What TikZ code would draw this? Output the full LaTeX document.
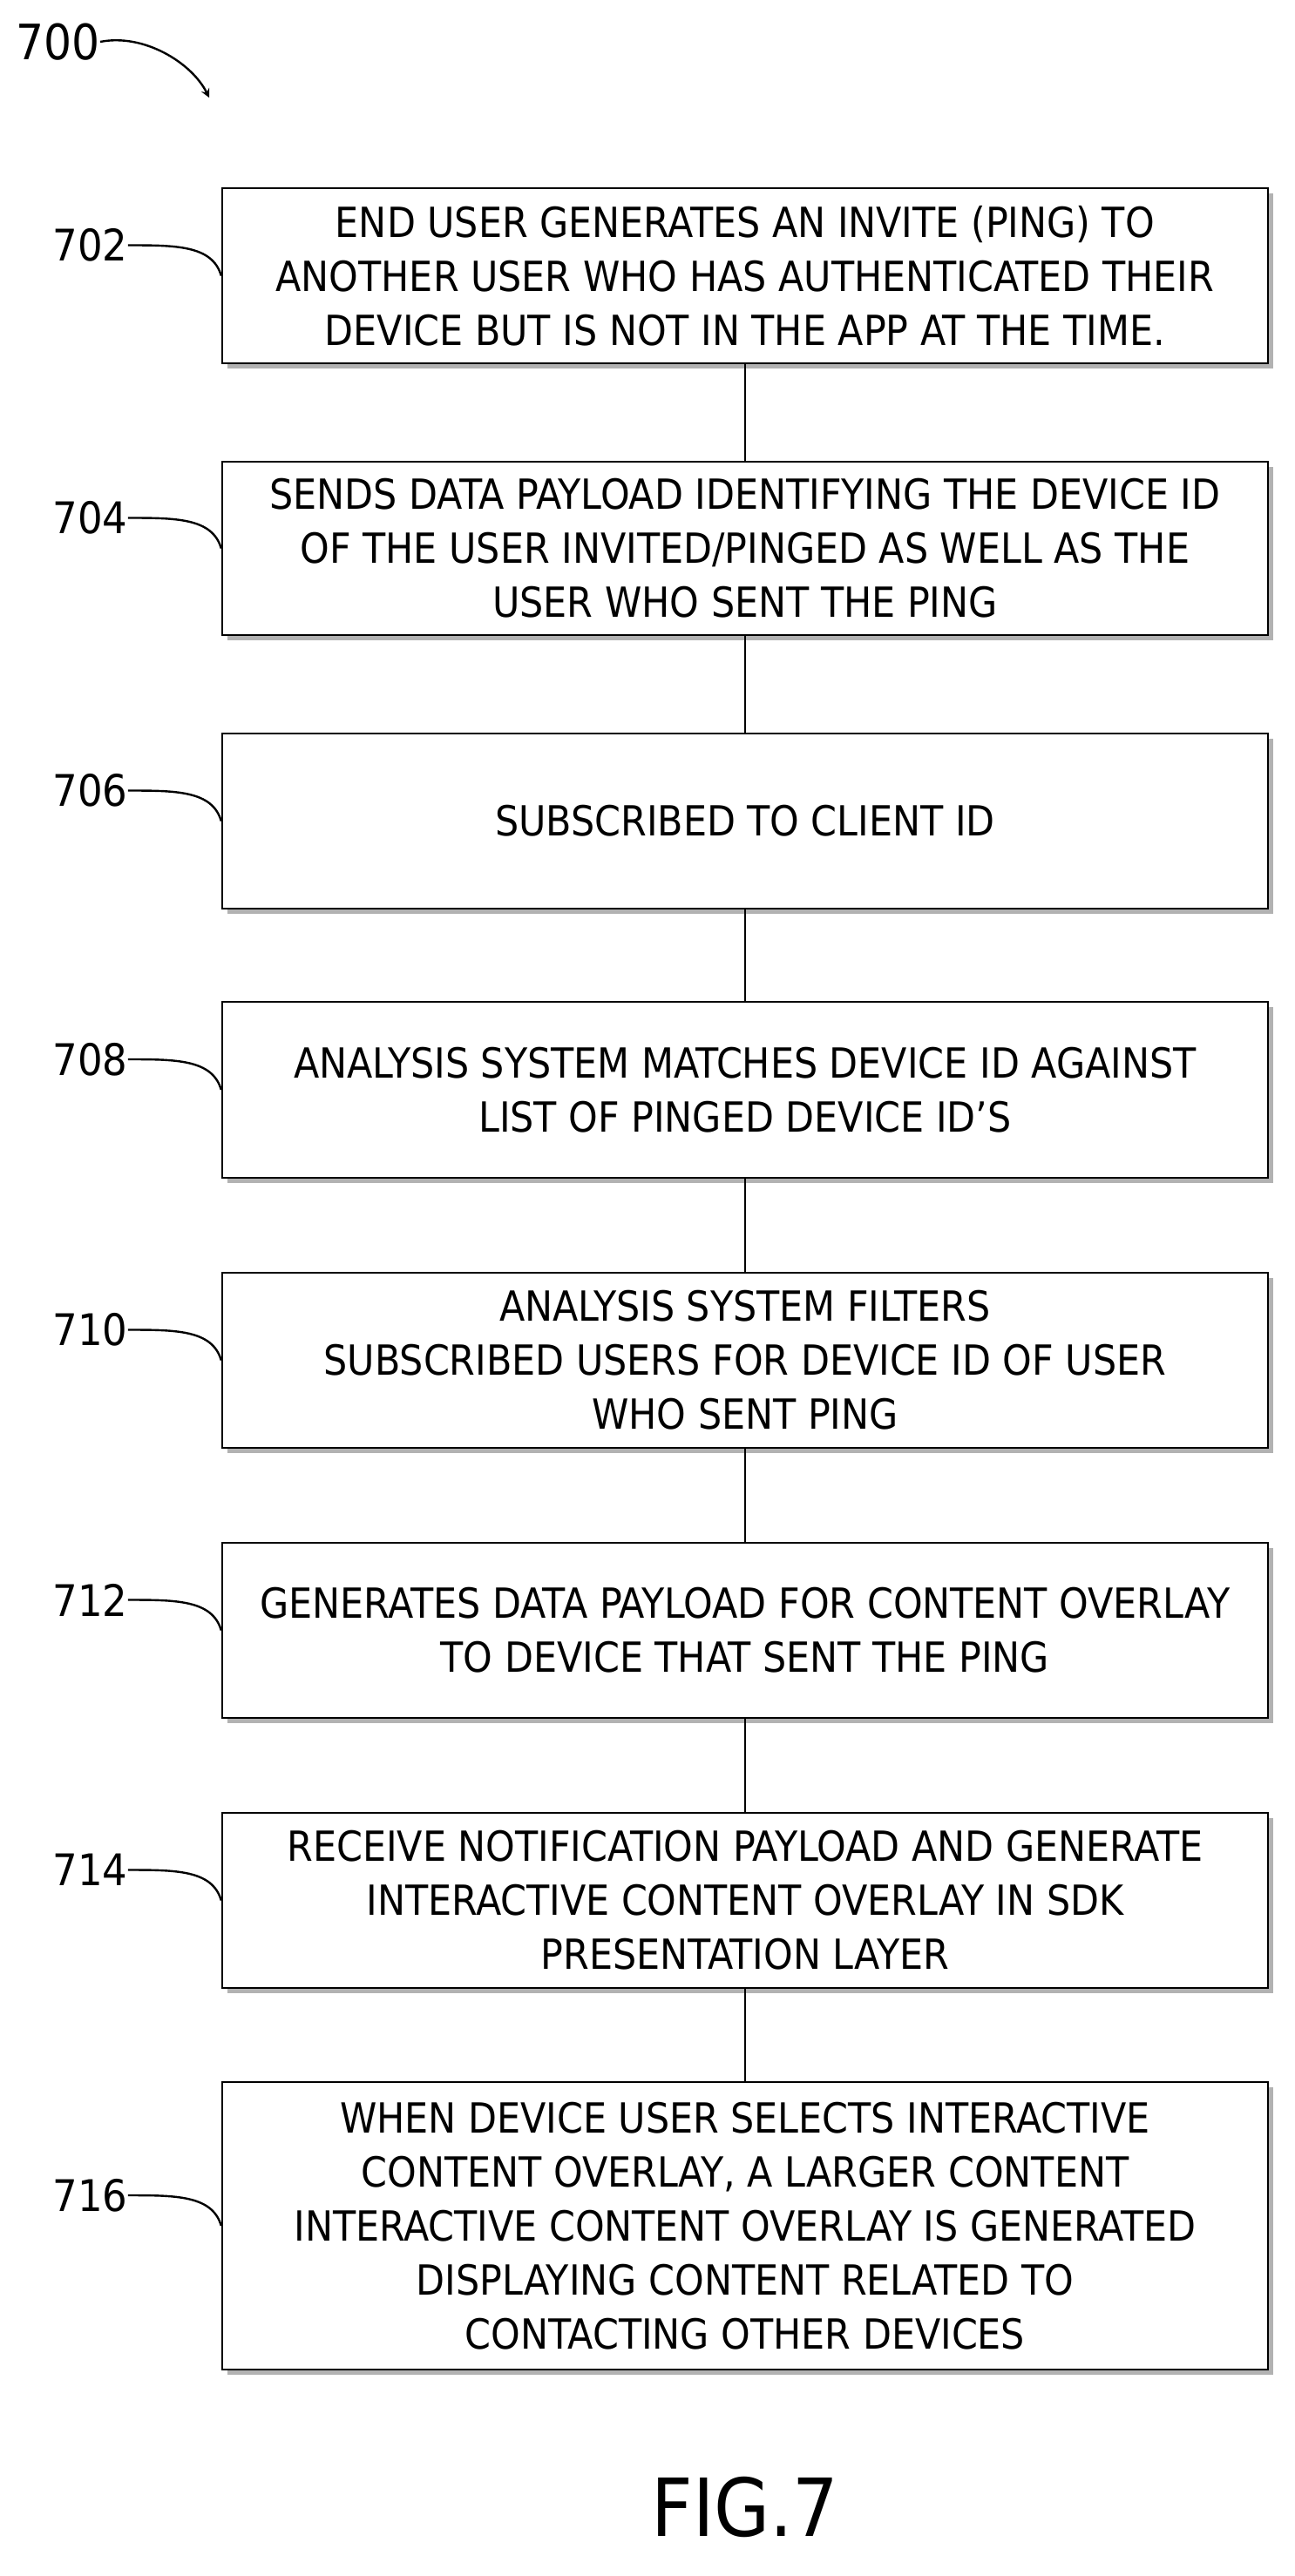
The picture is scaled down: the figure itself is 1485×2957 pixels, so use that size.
\documentclass[tikz,border=0pt]{standalone}
\usepackage{fontspec}
\usetikzlibrary{calc}
\setmainfont{DejaVu Sans Condensed}
\begin{document}
\begin{tikzpicture}[x=0.5pt,y=-0.5pt,
  box/.style={draw,line width=1.2pt,fill=white,minimum width=600pt,inner sep=0pt,align=center,
    font=\fontsize{23.8}{31}\selectfont},
  lbl/.style={font=\fontsize{25}{28}\selectfont,anchor=east,inner sep=0pt},
  lead/.style={line width=1.2pt},
  conn/.style={line width=1.2pt}]
\useasboundingbox (0,0) rectangle (1485,2957);
\def\bx#1#2#3#4{%
  \fill[gray!60] (261,#2+6) rectangle (1461,#3+6);
  \node[box,minimum height={(#3-#2)*0.5pt}] (#1) at (855,{(#2+#3)/2}) {#4};}
\bx{b702}{216}{417}{END USER GENERATES AN INVITE (PING) TO\\ANOTHER USER WHO HAS AUTHENTICATED THEIR\\DEVICE BUT IS NOT IN THE APP AT THE TIME.}
\bx{b704}{530}{729}{SENDS DATA PAYLOAD IDENTIFYING THE DEVICE ID\\OF THE USER INVITED/PINGED AS WELL AS THE\\USER WHO SENT THE PING}
\bx{b706}{842}{1043}{SUBSCRIBED TO CLIENT ID}
\bx{b708}{1150}{1352}{ANALYSIS SYSTEM MATCHES DEVICE ID AGAINST\\LIST OF PINGED DEVICE ID’S}
\bx{b710}{1461}{1662}{ANALYSIS SYSTEM FILTERS\\SUBSCRIBED USERS FOR DEVICE ID OF USER\\WHO SENT PING}
\bx{b712}{1771}{1972}{GENERATES DATA PAYLOAD FOR CONTENT OVERLAY\\TO DEVICE THAT SENT THE PING}
\bx{b714}{2081}{2282}{RECEIVE NOTIFICATION PAYLOAD AND GENERATE\\INTERACTIVE CONTENT OVERLAY IN SDK\\PRESENTATION LAYER}
\bx{b716}{2390}{2720}{WHEN DEVICE USER SELECTS INTERACTIVE\\CONTENT OVERLAY, A LARGER CONTENT\\INTERACTIVE CONTENT OVERLAY IS GENERATED\\DISPLAYING CONTENT RELATED TO\\CONTACTING OTHER DEVICES}
\foreach \a/\b in {b702/b704,b704/b706,b706/b708,b708/b710,b710/b712,b712/b714,b714/b716}
  \draw[conn] (\a.south) -- (\b.north);
\foreach \n in {702,704,706,708,710,712,714,716}{
  \node[lbl] (l\n) at ($(b\n.west)+(-107,-35)$) {\n};
  \draw[lead] (l\n.east) .. controls +(55,0) and +(-10,-35) .. (b\n.west);
}
\node[font=\fontsize{28}{32}\selectfont,anchor=west,inner sep=0pt] (l700) at (18,48) {700};
\coordinate (a700) at (240,112);
\draw[lead,-stealth] (l700.east) .. controls +(50,-10) and +(-20,-40) .. (a700);
\node[font=\fontsize{46}{50}\selectfont,inner sep=0pt] (fig) at (855,2878) {FIG.7};
\end{tikzpicture}
\end{document}
